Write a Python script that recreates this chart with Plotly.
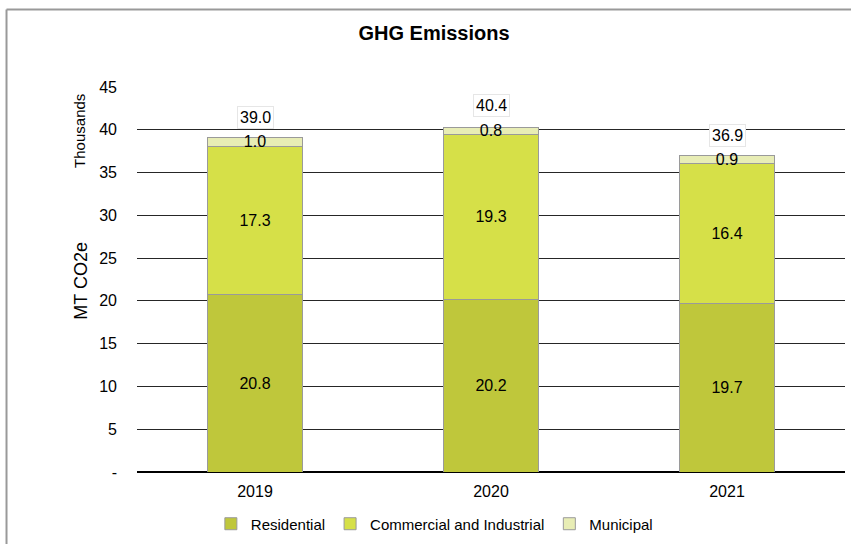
import plotly.graph_objects as go

years = ["2019", "2020", "2021"]
residential = [20.8, 20.2, 19.7]
commercial = [17.3, 19.3, 16.4]
municipal = [1.0, 0.8, 0.9]
totals = [39.0, 40.4, 36.9]

tick_vals = [0, 5, 10, 15, 20, 25, 30, 35, 40, 45]
tick_text = ["-", "5", "10", "15", "20", "25", "30", "35", "40", "45"]

font = "Liberation Sans, Arial, sans-serif"
outline = dict(color="#9a9a9a", width=1)

fig = go.Figure()
for name, vals, col in [
    ("Residential", residential, "#bfc73b"),
    ("Commercial and Industrial", commercial, "#d6e048"),
    ("Municipal", municipal, "#e8edb5"),
]:
    fig.add_trace(go.Bar(
        x=years, y=vals, name=name,
        marker=dict(color=col, line=outline),
        text=[f"{v:.1f}" for v in vals],
        textposition="inside", insidetextanchor="middle",
        textangle=0, constraintext="none",
        textfont=dict(size=16, color="black", family=font),
    ))

# totals above each stack (category index used as x)
for i, t in enumerate(totals):
    fig.add_annotation(
        x=i, y=t + 2.4, text=f"{t:.1f}", showarrow=False,
        bgcolor="white", bordercolor="#e6e6e6", borderwidth=1, borderpad=2,
        font=dict(size=16, color="black", family=font),
    )

# outer chart border, only top and left edges fall inside the window
fig.add_shape(type="line", xref="paper", yref="paper",
              x0=-0.1843, x1=-0.1843, y0=-0.3, y1=1.2013,
              line=dict(color="#999999", width=2))
fig.add_shape(type="line", xref="paper", yref="paper",
              x0=-0.1843, x1=1.1, y0=1.2013, y1=1.2013,
              line=dict(color="#999999", width=2))

fig.update_layout(
    width=851, height=544,
    barmode="stack", bargap=0.6,
    plot_bgcolor="white", paper_bgcolor="white",
    margin=dict(l=137, r=6, t=87, b=72, autoexpand=False),
    font=dict(family=font, size=16, color="black"),
    title=dict(text="<b>GHG Emissions</b>", x=0.51, xanchor="center",
               y=0.94, yanchor="middle", font=dict(size=20)),
    showlegend=True,
    legend=dict(orientation="h", x=0.42, xanchor="center", y=-0.135, yanchor="middle",
                font=dict(size=15), traceorder="normal", itemwidth=30),
    xaxis=dict(type="category", categoryorder="array", categoryarray=years,
               range=[-0.5, 2.5], showline=False, ticks="", ticklabelstandoff=8,
               tickfont=dict(size=16), automargin=False),
    yaxis=dict(range=[0, 45], tickvals=tick_vals, ticktext=tick_text,
               showgrid=True, gridcolor="#262626", gridwidth=1,
               zeroline=True, zerolinecolor="black", zerolinewidth=2,
               ticks="", ticklabelstandoff=19, automargin=False,
               tickfont=dict(size=16)),
)

fig.add_annotation(xref="paper", yref="paper", x=-0.0795, y=0.496,
                   xanchor="center", yanchor="middle",
                   text="MT CO2e", textangle=-90, showarrow=False,
                   font=dict(size=18, color="black", family=font))
fig.add_annotation(xref="paper", yref="paper", x=-0.0805, y=0.886,
                   xanchor="center", yanchor="middle",
                   text="Thousands", textangle=-90, showarrow=False,
                   font=dict(size=15, color="black", family=font))

fig.write_html("out.html", config={"displayModeBar": False},
               post_script="document.body.style.margin='0';")
